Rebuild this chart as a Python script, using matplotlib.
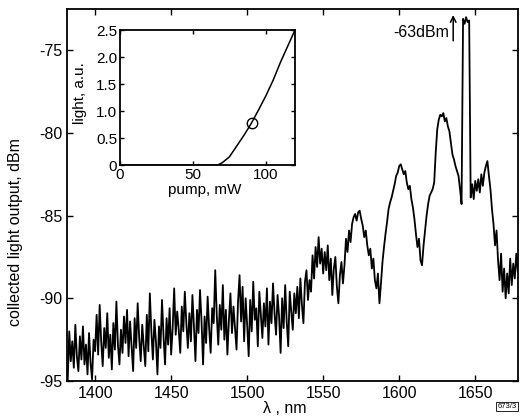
import matplotlib
matplotlib.use("Agg")
import matplotlib.pyplot as plt
import numpy as np

plt.rcParams['font.family'] = ['Liberation Sans', 'DejaVu Sans']
plt.rcParams['axes.unicode_minus'] = False

# spectrum, 1 nm steps starting at 1382 nm
start_nm = 1382
spectrum_dbm = [
    -94.9, -92.0, -93.8, -92.6, -94.2, -91.6, -93.5, -94.4, -92.3, -93.7,
    -91.7, -94.0, -92.8, -94.6, -92.1, -93.9, -94.9, -92.5, -93.2, -91.0,
    -93.4, -90.4, -92.6, -94.1, -91.8, -93.0, -90.9, -93.6, -92.2, -94.3,
    -91.5, -93.1, -90.2, -92.8, -94.0, -91.9, -93.3, -91.1, -92.7, -90.7,
    -93.5, -91.4, -92.9, -94.4, -91.2, -93.0, -90.3, -92.4, -93.8, -91.6,
    -92.9, -94.1, -91.0, -93.2, -89.7, -92.0, -93.7, -91.3, -92.6, -94.6,
    -91.7, -93.0, -90.1, -92.3, -94.0, -91.2, -92.8, -90.6, -93.4, -91.8,
    -89.4, -92.2, -90.8, -91.9, -93.3, -90.5, -92.0, -89.6, -91.5, -93.0,
    -90.9, -92.6, -89.8, -91.7, -93.8, -90.7, -92.1, -89.5, -91.4, -94.0,
    -91.1, -92.7, -89.9, -91.8, -93.3, -90.6, -91.5, -88.3, -91.0, -92.8,
    -90.4, -91.9, -89.2, -92.5, -90.7, -93.4, -91.3, -89.7, -92.1, -90.5,
    -91.8, -93.1, -90.2, -88.6, -91.4, -89.3, -92.6, -90.0, -91.6, -93.5,
    -90.1, -92.0, -89.0, -91.3, -90.6, -92.9, -89.6, -91.0, -92.4, -90.3,
    -91.7, -89.4, -92.8, -90.2, -91.5, -89.1, -90.9, -92.2, -89.8, -91.1,
    -93.3, -90.0, -91.8, -89.2, -91.4, -92.9, -89.6, -90.8, -91.9, -89.7,
    -90.9, -89.3, -91.2, -88.8, -90.4, -91.5, -89.0, -88.3, -90.1, -88.9,
    -89.6, -87.4, -88.8, -86.9, -88.1, -86.3, -87.9, -87.0, -88.5, -87.2,
    -88.3, -86.8, -88.9, -87.6, -89.8, -88.2, -87.5, -89.3, -90.3, -88.6,
    -87.8, -89.1, -88.0, -86.4, -87.2, -85.9, -86.6, -85.5, -85.1, -84.9,
    -85.3, -84.8, -84.7, -85.2, -85.6, -86.3, -85.9, -86.8, -87.4, -87.0,
    -88.2, -87.6, -88.9, -89.4, -88.5, -90.3, -89.1, -87.8, -86.9, -86.1,
    -85.4, -84.6, -84.2, -83.9, -83.5, -83.1, -82.6, -82.4, -82.0, -81.9,
    -82.2, -82.5, -82.3, -83.0, -83.4, -83.2, -84.0, -84.5, -85.2, -86.1,
    -86.9, -86.4, -87.7, -88.0, -86.8, -85.9, -85.0, -84.3, -83.8, -83.6,
    -83.4, -83.0, -81.2, -79.8, -79.2, -78.9, -79.0, -78.8, -79.3, -79.1,
    -79.6, -79.9, -80.6, -81.3, -81.6, -82.0, -82.3, -82.6, -83.4, -84.3,
    -73.1, -73.4, -73.0, -73.3, -73.2, -83.9, -83.1, -84.0, -82.9, -83.5,
    -82.8, -83.6, -82.5, -83.2, -82.4, -82.0, -81.7, -82.6, -83.4, -84.6,
    -85.5, -86.8, -85.9, -87.7, -88.9, -87.3, -89.6, -88.2, -90.0, -88.5,
    -89.7, -87.6, -89.2, -87.9, -88.8, -87.3, -88.4,
]
wavelength = np.arange(start_nm, start_nm + len(spectrum_dbm))

# inset: light vs pump
pump_mw = [0, 67, 70, 75, 80, 85, 90, 95, 100, 105, 110, 115, 120]
light_au = [0, 0, 0.04, 0.15, 0.35, 0.55, 0.77, 1.02, 1.28, 1.57, 1.9, 2.2, 2.5]
marker_pump, marker_light = 90.5, 0.78

fig = plt.figure(figsize=(5.2, 4.19), dpi=100)
ax = fig.add_axes([0.1288, 0.0907, 0.867, 0.888])
ax.plot(wavelength, spectrum_dbm, color="black", lw=1.3)
ax.set_xlim(1381.5, 1678)
ax.set_ylim(-95, -72.5)
ax.set_xticks([1400, 1450, 1500, 1550, 1600, 1650])
ax.set_yticks([-95, -90, -85, -80, -75])
ax.tick_params(direction="in", top=True, right=True, labelsize=11.5, length=4, width=1)
for s in ax.spines.values():
    s.set_linewidth(1.3)
ax.set_xlabel("λ , nm", fontsize=11.5)
ax.set_ylabel("collected light output, dBm", fontsize=11.5)
ax.xaxis.set_label_coords(0.483, -0.054)
ax.yaxis.set_label_coords(-0.098, 0.40)

ax.annotate("", xy=(1635.5, -72.7), xytext=(1635.5, -74.6),
            arrowprops=dict(arrowstyle="->", color="black", lw=1.1))
ax.text(1633, -73.95, "-63dBm", ha="right", va="center", fontsize=11.5)

ins = fig.add_axes([0.2308, 0.6062, 0.3365, 0.3222])
ins.plot(pump_mw, light_au, color="black", lw=1.1)
ins.plot([marker_pump], [marker_light], "o", mfc="none", mec="black", ms=7.5, mew=1)
ins.set_xlim(0, 120)
ins.set_ylim(0, 2.5)
ins.set_xticks([0, 50, 100])
ins.set_yticks([0, 0.5, 1.0, 1.5, 2.0, 2.5])
ins.set_yticklabels(["0", "0.5", "1.0", "1.5", "2.0", "2.5"])
ins.tick_params(direction="in", top=True, right=True, labelsize=11, length=3, width=1, pad=2)
for s in ins.spines.values():
    s.set_linewidth(1.3)
ins.set_xlabel("pump, mW", fontsize=11)
ins.set_ylabel("light, a.u.", fontsize=11)
ins.xaxis.set_label_coords(0.486, -0.135)
ins.yaxis.set_label_coords(-0.19, 0.53)

fig.text(0.957, 0.03, "673/3", fontsize=5.5, ha="left", va="center",
         bbox=dict(boxstyle="square,pad=0.15", fc="white", ec="black", lw=0.6))

fig.savefig("out.png", dpi=100)
